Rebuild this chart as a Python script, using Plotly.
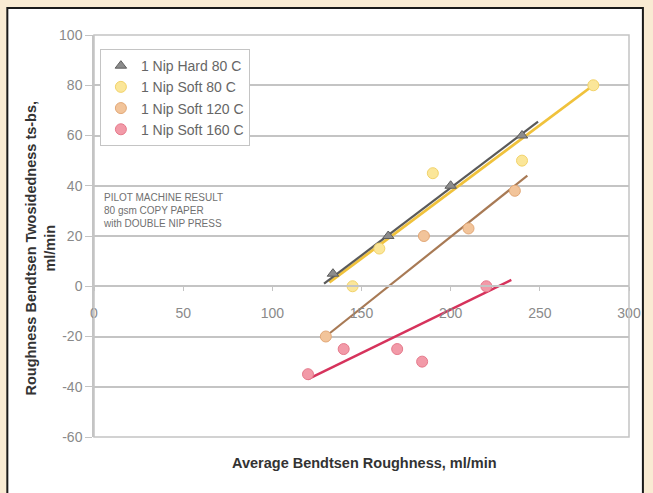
import plotly.graph_objects as go

# Measured points: average Bendtsen roughness (x) vs. roughness two-sidedness ts-bs (y)
hard80_x = [134, 165, 200, 240]
hard80_y = [5, 20, 40, 60]

soft80_x = [145, 160, 190, 240, 280]
soft80_y = [0, 15, 45, 50, 80]

soft120_x = [130, 185, 210, 236]
soft120_y = [-20, 20, 23, 38]

soft160_x = [120, 140, 170, 184, 220]
soft160_y = [-35, -25, -25, -30, 0]

# Linear trend lines (end points)
hard80_fit_x = [129, 249]
hard80_fit_y = [1, 65.5]
soft80_fit_x = [132, 280]
soft80_fit_y = [1.5, 80]
soft120_fit_x = [129, 243]
soft120_fit_y = [-20.5, 44]
soft160_fit_x = [120, 234]
soft160_fit_y = [-37, 2.5]

x_ticks = [0, 50, 100, 150, 200, 250, 300]
y_ticks = [-60, -40, -20, 0, 20, 40, 60, 80, 100]
y_tick_text = ["-60", "-40", "-20", "0", "20", "40", "60", "80", "100"]

FONT = "Liberation Sans, Arial, sans-serif"

fig = go.Figure()

# trend lines first so markers sit on top
fig.add_trace(go.Scatter(x=soft160_fit_x, y=soft160_fit_y, mode="lines",
                         line=dict(color="#d6335c", width=2.5), showlegend=False, hoverinfo="skip"))
fig.add_trace(go.Scatter(x=soft120_fit_x, y=soft120_fit_y, mode="lines",
                         line=dict(color="#a87a55", width=2.2), showlegend=False, hoverinfo="skip"))
fig.add_trace(go.Scatter(x=soft80_fit_x, y=soft80_fit_y, mode="lines",
                         line=dict(color="#f0c23c", width=2.8), showlegend=False, hoverinfo="skip"))
fig.add_trace(go.Scatter(x=hard80_fit_x, y=hard80_fit_y, mode="lines",
                         line=dict(color="#5a5a5a", width=2.2), showlegend=False, hoverinfo="skip"))

fig.add_trace(go.Scatter(x=hard80_x, y=hard80_y, mode="markers", name="1 Nip Hard 80 C",
                         marker=dict(symbol="triangle-up", size=10, color="#8c8c8c",
                                     line=dict(color="#5e5e5e", width=1))))
fig.add_trace(go.Scatter(x=soft80_x, y=soft80_y, mode="markers", name="1 Nip Soft 80 C",
                         marker=dict(symbol="circle", size=11, color="#fbe699",
                                     line=dict(color="#f2d36a", width=1))))
fig.add_trace(go.Scatter(x=soft120_x, y=soft120_y, mode="markers", name="1 Nip Soft 120 C",
                         marker=dict(symbol="circle", size=11, color="#f2c49a",
                                     line=dict(color="#e2a877", width=1))))
fig.add_trace(go.Scatter(x=soft160_x, y=soft160_y, mode="markers", name="1 Nip Soft 160 C",
                         marker=dict(symbol="circle", size=11, color="#f29aa8",
                                     line=dict(color="#e67a8c", width=1))))

grid = "#c4c4c4"
tick_font = dict(family=FONT, size=14, color="#8a8a8a")

fig.update_layout(
    width=653, height=493,
    margin=dict(l=94, r=22, t=35, b=56),
    paper_bgcolor="#f9ebd3",
    plot_bgcolor="white",
    font=dict(family=FONT, color="#444444"),
    showlegend=True,
    legend=dict(x=0.011, y=0.965, xanchor="left", yanchor="top",
                bgcolor="white", bordercolor="#c4c4c4", borderwidth=1,
                font=dict(family=FONT, size=14, color="#666666"),
                tracegroupgap=0, itemwidth=30),
    xaxis=dict(range=[0, 300], tickvals=x_ticks, showgrid=False, zeroline=False,
               anchor="free", position=0.375,
               showline=True, linecolor=grid, linewidth=1.5,
               ticks="outside", ticklen=4, tickcolor=grid, tickfont=tick_font,
               ticklabelstandoff=10),
    yaxis=dict(range=[-60, 100], tickvals=y_ticks, ticktext=y_tick_text,
               showgrid=True, gridcolor=grid, gridwidth=1.5, zeroline=False,
               showline=True, linecolor=grid, linewidth=1.5,
               ticks="outside", ticklen=7, tickcolor=grid, tickfont=tick_font),
    shapes=[
        # white chart panel with dark frame
        dict(type="rect", xref="paper", yref="paper", x0=-0.162, x1=1.026, y0=-0.2, y1=1.067,
             fillcolor="white", line=dict(color="#1a1a1a", width=2), layer="below"),
        # plot-area border
        dict(type="rect", xref="paper", yref="paper", x0=0, x1=1, y0=0, y1=1,
             line=dict(color=grid, width=1.5), layer="above"),
    ],
    annotations=[
        dict(text="Average Bendtsen Roughness, ml/min", xref="paper", yref="paper",
             x=0.505, y=-0.065, xanchor="center", yanchor="middle", showarrow=False,
             font=dict(family=FONT, size=14.5, color="#333333", weight="bold")),
        dict(text="Roughness Bendtsen Twosidedness ts-bs,<br>ml/min", xref="paper", yref="paper",
             x=-0.1, y=0.47, xanchor="center", yanchor="middle", showarrow=False, textangle=-90,
             font=dict(family=FONT, size=14.5, color="#333333", weight="bold")),
        dict(text="PILOT MACHINE RESULT<br>80 gsm COPY PAPER<br>with DOUBLE NIP PRESS",
             xref="paper", yref="paper", x=0.014, y=0.615, xanchor="left", yanchor="top",
             align="left", showarrow=False,
             font=dict(family=FONT, size=10, color="#707070")),
    ],
)

fig.write_html("out.html")
